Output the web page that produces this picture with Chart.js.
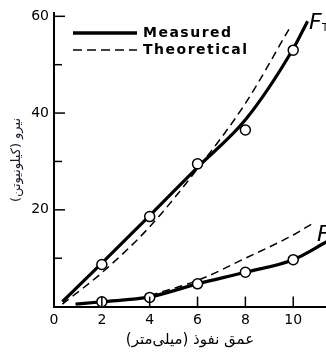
<!DOCTYPE html>
<html>
<head>
<meta charset="utf-8">
<script src="https://cdn.jsdelivr.net/npm/chart.js@4/dist/chart.umd.min.js"></script>
<style>
  html, body { margin: 0; padding: 0; background: #fff; }
  #wrap { width: 326px; height: 356px; position: relative; }
</style>
</head>
<body>
<div id="wrap"><canvas id="forceChart"></canvas></div>
<script>
// measured points (depth in mm, force in kN)
const depth = [2, 4, 6, 8, 10];
const measuredFT = [8.7, 18.6, 29.5, 36.5, 53];
const measuredFL = [1, 1.9, 4.7, 7.1, 9.7];

// fitted / theoretical curves
const ftMeasuredX = [0.35, 2, 4, 6, 8, 10, 10.6];
const ftMeasuredY = [1, 9, 18.8, 28.8, 38.6, 53.3, 59];
const ftTheoryX = [0.35, 2, 4, 6, 8, 9.9];
const ftTheoryY = [0.5, 7, 16.5, 28.5, 42, 58];
const flMeasuredX = [0.9, 2, 4, 6, 8, 10, 11.4];
const flMeasuredY = [0.5, 1, 2, 4.7, 7.1, 9.7, 13.4];
const flTheoryX = [4, 6, 8, 10, 10.75];
const flTheoryY = [2.3, 5.4, 10, 14.8, 17];

const xLabels = [0, 2, 4, 6, 8, 10];
const yLabels = [20, 40, 60];
const yTicks = [10, 20, 30, 40, 50, 60];
const xTicks = [2, 4, 6, 8, 10];

const legendLabels = ["Measured", "Theoretical"];
const xTitle = "عمق نفوذ (میلی‌متر)";
const yTitle = "نیرو (کیلونیوتن)";

function toPoints(xs, ys) {
    return xs.map((x, i) => ({ x: x, y: ys[i] }));
}

function curve(xs, ys, dashed) {
    return {
        data: toPoints(xs, ys),
        showLine: true,
        borderColor: "#000",
        borderWidth: dashed ? 1.5 : 3.2,
        borderDash: dashed ? [8, 5] : [],
        pointRadius: 0,
        cubicInterpolationMode: "monotone",
        fill: false,
        order: 2
    };
}

function markers(ys) {
    return {
        data: toPoints(depth, ys),
        showLine: false,
        pointRadius: 5,
        pointBackgroundColor: "#fff",
        pointBorderColor: "#000",
        pointBorderWidth: 1.5,
        order: 1
    };
}

// inward tick marks, legend and curve labels
const extras = {
    id: "extras",
    afterDatasetsDraw(chart) {
        const ctx = chart.ctx;
        const xs = chart.scales.x;
        const ys = chart.scales.y;
        const area = chart.chartArea;
        ctx.save();
        ctx.strokeStyle = "#000";
        ctx.lineWidth = 1.5;
        yTicks.forEach(v => {
            const py = ys.getPixelForValue(v);
            const len = v % 20 === 0 ? 11 : 8;
            ctx.beginPath();
            ctx.moveTo(area.left, py);
            ctx.lineTo(area.left + len, py);
            ctx.stroke();
        });
        xTicks.forEach(v => {
            const px = xs.getPixelForValue(v);
            ctx.beginPath();
            ctx.moveTo(px, area.bottom);
            ctx.lineTo(px, area.bottom - 10);
            ctx.stroke();
        });

        // legend
        ctx.beginPath();
        ctx.lineWidth = 3.5;
        ctx.moveTo(73, 33);
        ctx.lineTo(137, 33);
        ctx.stroke();
        ctx.beginPath();
        ctx.lineWidth = 1.5;
        ctx.setLineDash([9, 5]);
        ctx.moveTo(73, 50);
        ctx.lineTo(137, 50);
        ctx.stroke();
        ctx.setLineDash([]);
        ctx.fillStyle = "#000";
        ctx.font = "bold 14px 'DejaVu Sans'";
        ctx.letterSpacing = "1.5px";
        ctx.textBaseline = "middle";
        ctx.textAlign = "left";
        ctx.fillText(legendLabels[0], 143, 33);
        ctx.fillText(legendLabels[1], 143, 50);
        ctx.letterSpacing = "0px";

        // curve labels
        ctx.textBaseline = "alphabetic";
        ctx.font = "italic 22px 'DejaVu Sans'";
        ctx.fillText("F", 309, 29);
        ctx.fillText("F", 317, 241);
        ctx.font = "10px 'DejaVu Sans'";
        ctx.fillText("T", 322, 31);
        ctx.restore();
    }
};

new Chart(document.getElementById("forceChart"), {
    type: "scatter",
    data: {
        datasets: [
            curve(ftMeasuredX, ftMeasuredY, false),
            curve(ftTheoryX, ftTheoryY, true),
            curve(flMeasuredX, flMeasuredY, false),
            curve(flTheoryX, flTheoryY, true),
            markers(measuredFT),
            markers(measuredFL)
        ]
    },
    options: {
        responsive: true,
        maintainAspectRatio: false,
        animation: false,
        layout: { autoPadding: false, padding: { top: 13, right: 0, left: 0, bottom: 0 } },
        plugins: {
            legend: { display: false },
            tooltip: { enabled: false }
        },
        scales: {
            x: {
                type: "linear",
                min: 0,
                max: 11.37,
                afterFit: scale => {
                    scale.height = 49.4;
                    scale.paddingLeft = 0;
                    scale.paddingRight = 0;
                },
                afterBuildTicks: scale => { scale.ticks = xLabels.map(v => ({ value: v })); },
                grid: { display: false, drawTicks: false },
                border: { display: true, color: "#000", width: 2 },
                ticks: {
                    padding: 5,
                    color: "#000",
                    font: { family: "DejaVu Sans", size: 14 }
                },
                title: {
                    display: true,
                    text: xTitle,
                    color: "#000",
                    font: { family: "DejaVu Sans", size: 15 },
                    padding: { top: 0, bottom: 7 }
                }
            },
            y: {
                min: 0,
                max: 60.6,
                afterFit: scale => { scale.width = 54; },
                afterBuildTicks: scale => { scale.ticks = yLabels.map(v => ({ value: v })); },
                grid: { display: false, drawTicks: false },
                border: { display: true, color: "#000", width: 2 },
                ticks: {
                    padding: 5,
                    color: "#000",
                    font: { family: "DejaVu Sans", size: 14 }
                },
                title: {
                    display: true,
                    text: yTitle,
                    color: "#1a1a2e",
                    font: { family: "DejaVu Sans", size: 13 },
                    padding: { top: 9, bottom: 0 }
                }
            }
        }
    },
    plugins: [extras]
});
</script>
</body>
</html>
